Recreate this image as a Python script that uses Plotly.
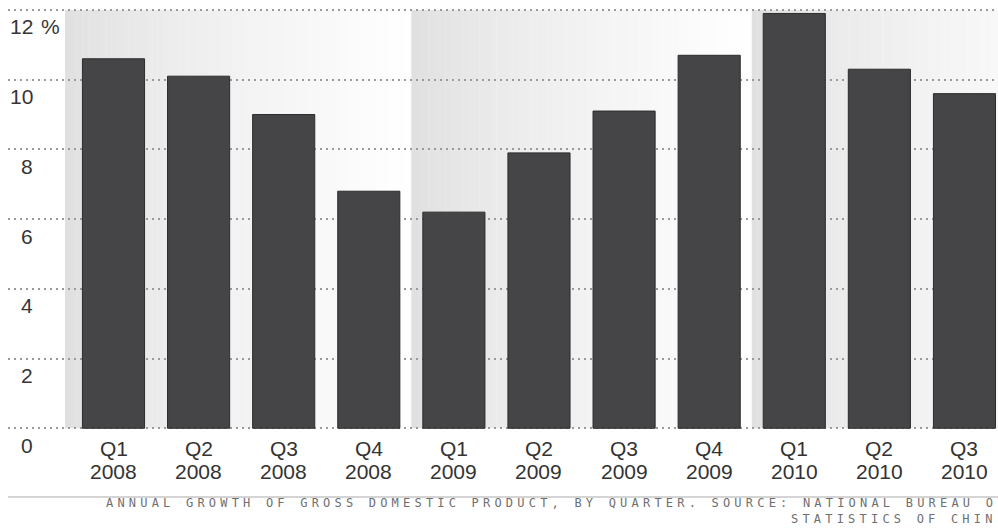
import plotly.graph_objects as go

# Quarterly GDP growth, China (% year on year)
quarters = ["Q1", "Q2", "Q3", "Q4", "Q1", "Q2", "Q3", "Q4", "Q1", "Q2", "Q3"]
years = ["2008", "2008", "2008", "2008", "2009", "2009", "2009", "2009", "2010", "2010", "2010"]
growth = [10.6, 10.1, 9.0, 6.8, 6.2, 7.9, 9.1, 10.7, 11.9, 10.3, 9.6]

y_ticks = [0, 2, 4, 6, 8, 10, 12]
y_tick_text = ["0", "2", "4", "6", "8", "10", "12"]

footer_lines = [
    "ANNUAL GROWTH OF GROSS DOMESTIC PRODUCT, BY QUARTER. SOURCE: NATIONAL BUREAU O",
    "STATISTICS OF CHIN",
]

categories = [f"{q} {y}" for q, y in zip(quarters, years)]

W, H = 998, 528
M_L, M_R, M_T, M_B = 8, 0, 3, 98
PLOT_W = W - M_L - M_R
PLOT_H = H - M_T - M_B
PLOT_BOTTOM = M_T + PLOT_H


def paper_x(px):
    return (px - M_L) / PLOT_W


def paper_y(py):
    return (PLOT_BOTTOM - py) / PLOT_H


fig = go.Figure()

fig.add_trace(go.Bar(
    x=categories,
    y=growth,
    marker=dict(color="#454547", line=dict(color="#2c2c2c", width=1)),
    width=0.73,
    hoverinfo="x+y",
))

# Shaded year bands: horizontal fade from grey to white
shapes = []
bands = [(-0.57, 3.5), (3.5, 7.5), (7.5, 11.5)]
n_slices = 60
for b0, b1 in bands:
    step = (b1 - b0) / n_slices
    for i in range(n_slices):
        t = (i + 0.5) / n_slices
        c = int(round(223 + 32 * (t ** 0.75)))
        c = min(c, 255)
        shapes.append(dict(
            type="rect", xref="x", yref="y",
            x0=b0 + i * step, x1=b0 + (i + 1) * step + step * 0.05,
            y0=0, y1=12,
            fillcolor=f"rgb({c},{c},{c + 1 if c < 255 else 255})",
            line=dict(width=0), layer="below",
        ))

# Rule above the footer
shapes.append(dict(
    type="line", xref="paper", yref="paper",
    x0=0, x1=1, y0=paper_y(497), y1=paper_y(497),
    line=dict(color="#d4d4d4", width=2),
))

annotations = []

# Value axis labels sit just under their grid lines
for v, txt in zip(y_ticks, y_tick_text):
    annotations.append(dict(
        x=paper_x(35), xref="paper", y=v, yref="y",
        text=txt, showarrow=False, xanchor="right", yanchor="middle",
        yshift=-17,
        font=dict(family="Liberation Sans, Arial, sans-serif", size=21, color="#363636"),
    ))
annotations.append(dict(
    x=paper_x(39), xref="paper", y=y_ticks[-1], yref="y",
    text="%", showarrow=False, xanchor="left", yanchor="middle",
    yshift=-17,
    font=dict(family="Liberation Sans, Arial, sans-serif", size=21, color="#363636"),
))

# Two-line category labels
for cat, q, yr in zip(categories, quarters, years):
    annotations.append(dict(
        x=cat, xref="x", y=0, yref="y", text=q, showarrow=False,
        xanchor="center", yanchor="middle", yshift=-20,
        font=dict(family="Liberation Sans, Arial, sans-serif", size=21, color="#333333"),
    ))
    annotations.append(dict(
        x=cat, xref="x", y=0, yref="y", text=yr, showarrow=False,
        xanchor="center", yanchor="middle", yshift=-43,
        font=dict(family="Liberation Sans, Arial, sans-serif", size=21, color="#333333"),
    ))

# Source note
for line, py in zip(footer_lines, [503, 519]):
    annotations.append(dict(
        x=paper_x(999), xref="paper", y=paper_y(py), yref="paper",
        text=f'<span style="letter-spacing:4.2px">{line}</span>',
        showarrow=False, xanchor="right", yanchor="middle",
        font=dict(family="DejaVu Sans Mono, monospace", size=12, color="#6f6f6f"),
    ))

fig.update_layout(
    width=W, height=H,
    margin=dict(l=M_L, r=M_R, t=M_T, b=M_B, pad=0),
    paper_bgcolor="white",
    plot_bgcolor="white",
    showlegend=False,
    bargap=0.27,
    shapes=shapes,
    annotations=annotations,
    xaxis=dict(
        type="category",
        range=[-1.2397, 10.394],
        showgrid=False, zeroline=False, showline=False,
        showticklabels=False, ticks="",
        fixedrange=True,
    ),
    yaxis=dict(
        range=[-0.05, 12.2],
        tickvals=y_ticks,
        showticklabels=False,
        showgrid=True, gridcolor="#9a9a9a", gridwidth=2, griddash="2px,4px",
        zeroline=False, showline=False, ticks="",
        fixedrange=True,
    ),
)

fig.write_html("out.html", config={"displayModeBar": False})
